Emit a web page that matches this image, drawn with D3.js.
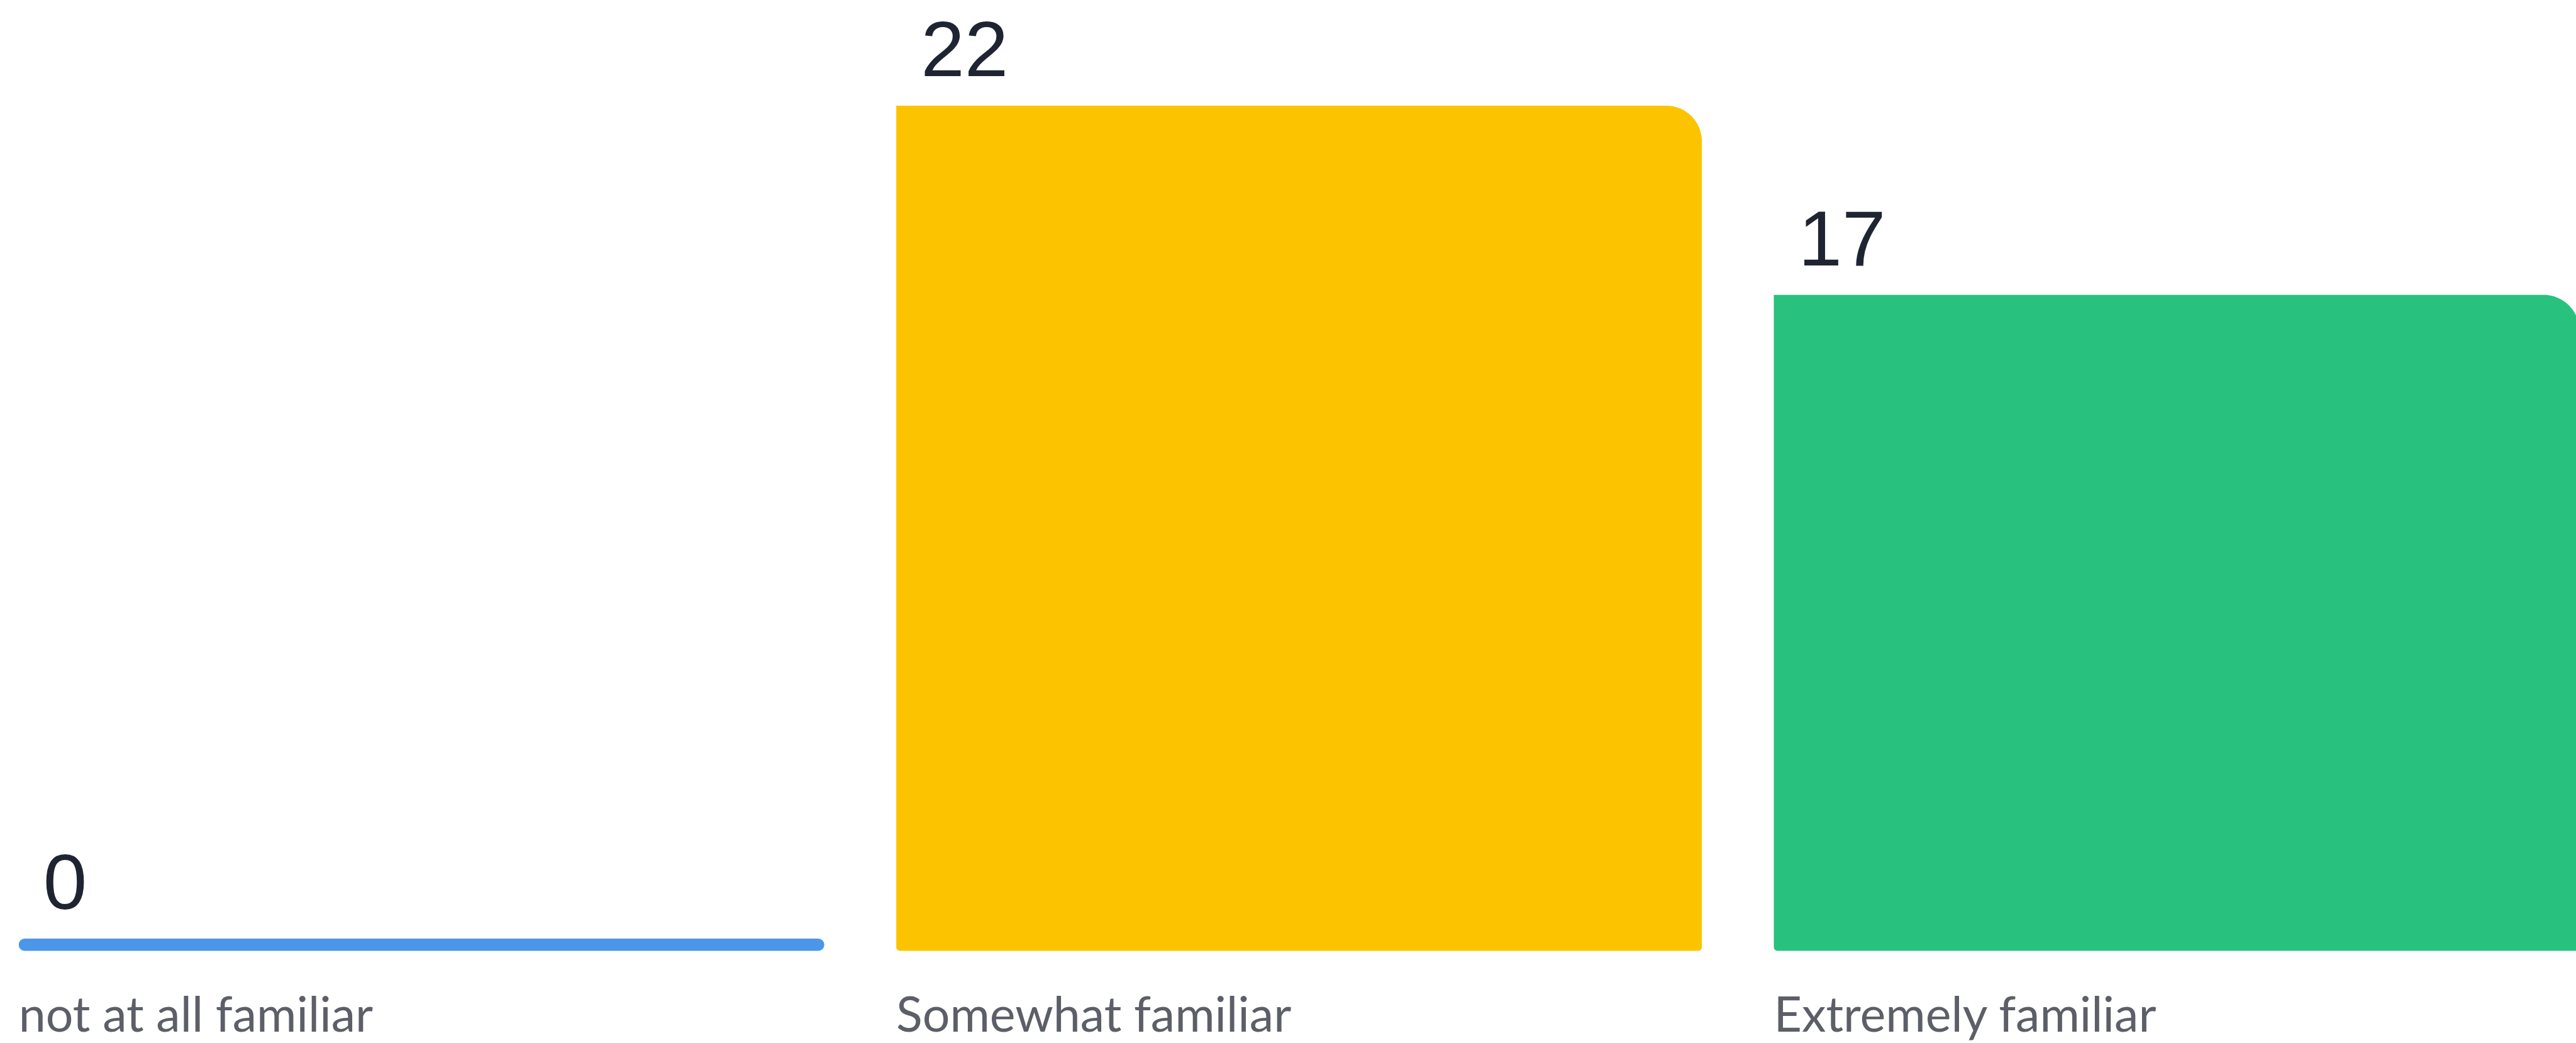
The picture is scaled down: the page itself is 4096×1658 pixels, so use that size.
<!DOCTYPE html>
<html lang="en">
<head>
    <meta charset="UTF-8">
    <title>Familiarity</title>
    <script src="https://d3js.org/d3.v7.min.js"></script>
    <style>
        body { margin: 0; background: #ffffff; overflow: hidden; }
        svg { display: block; }
        .value { font-family: "Liberation Sans", Arial, sans-serif; fill: #1f2432; }
        .cat { font-family: Lato, "Open Sans", sans-serif; fill: #5c5f68; }
    </style>
</head>
<body>
<div id="chart"></div>
<script>
    // data
    const categories = ["not at all familiar", "Somewhat familiar", "Extremely familiar"];
    const values = [0, 22, 17];
    const colors = ["#4c96ea", "#fcc400", "#28c27e"];

    // drawing is done in the reference's own coordinates, then scaled down by the viewBox
    const W = 4194, H = 1698;
    const svg = d3.select("#chart").append("svg")
        .attr("width", 4096)
        .attr("height", 1658)
        .attr("viewBox", `0 0 ${W} ${H}`);

    const base = 1548;      // bottom of every bar
    const minH = 20;        // zero bars still show as a thin pill

    const x = d3.scaleBand()
        .domain(categories)
        .range([30, 4200])
        .paddingInner(0.082)
        .paddingOuter(0);

    const y = d3.scaleLinear()
        .domain([0, 22])
        .range([base - minH, 172]);

    const data = categories.map((c, i) => ({ cat: c, value: values[i], color: colors[i] }));

    // bar with a big rounded top-right corner, small radius at the bottom
    function barPath(x0, y0, w, h) {
        const rt = 58, rb = 6;
        return `M${x0},${y0}` +
            `H${x0 + w - rt}` +
            `A${rt},${rt} 0 0 1 ${x0 + w},${y0 + rt}` +
            `V${y0 + h - rb}` +
            `A${rb},${rb} 0 0 1 ${x0 + w - rb},${y0 + h}` +
            `H${x0 + rb}` +
            `A${rb},${rb} 0 0 1 ${x0},${y0 + h - rb}` +
            `Z`;
    }

    const g = svg.append("g");

    data.forEach(d => {
        const top = y(d.value);
        if (d.value === 0) {
            g.append("rect")
                .attr("x", x(d.cat))
                .attr("y", top)
                .attr("width", x.bandwidth())
                .attr("height", base - top)
                .attr("rx", (base - top) / 2)
                .attr("fill", d.color);
        } else {
            g.append("path")
                .attr("d", barPath(x(d.cat), top, x.bandwidth(), base - top))
                .attr("fill", d.color);
        }

        // value above the bar
        g.append("text")
            .attr("class", "value")
            .attr("x", x(d.cat) + 40)
            .attr("y", top - 48)
            .attr("font-size", 128)
            .text(d.value);

        // category label under the bar
        g.append("text")
            .attr("class", "cat")
            .attr("x", x(d.cat))
            .attr("y", 1680)
            .attr("font-size", 79)
            .text(d.cat);
    });
</script>
</body>
</html>
